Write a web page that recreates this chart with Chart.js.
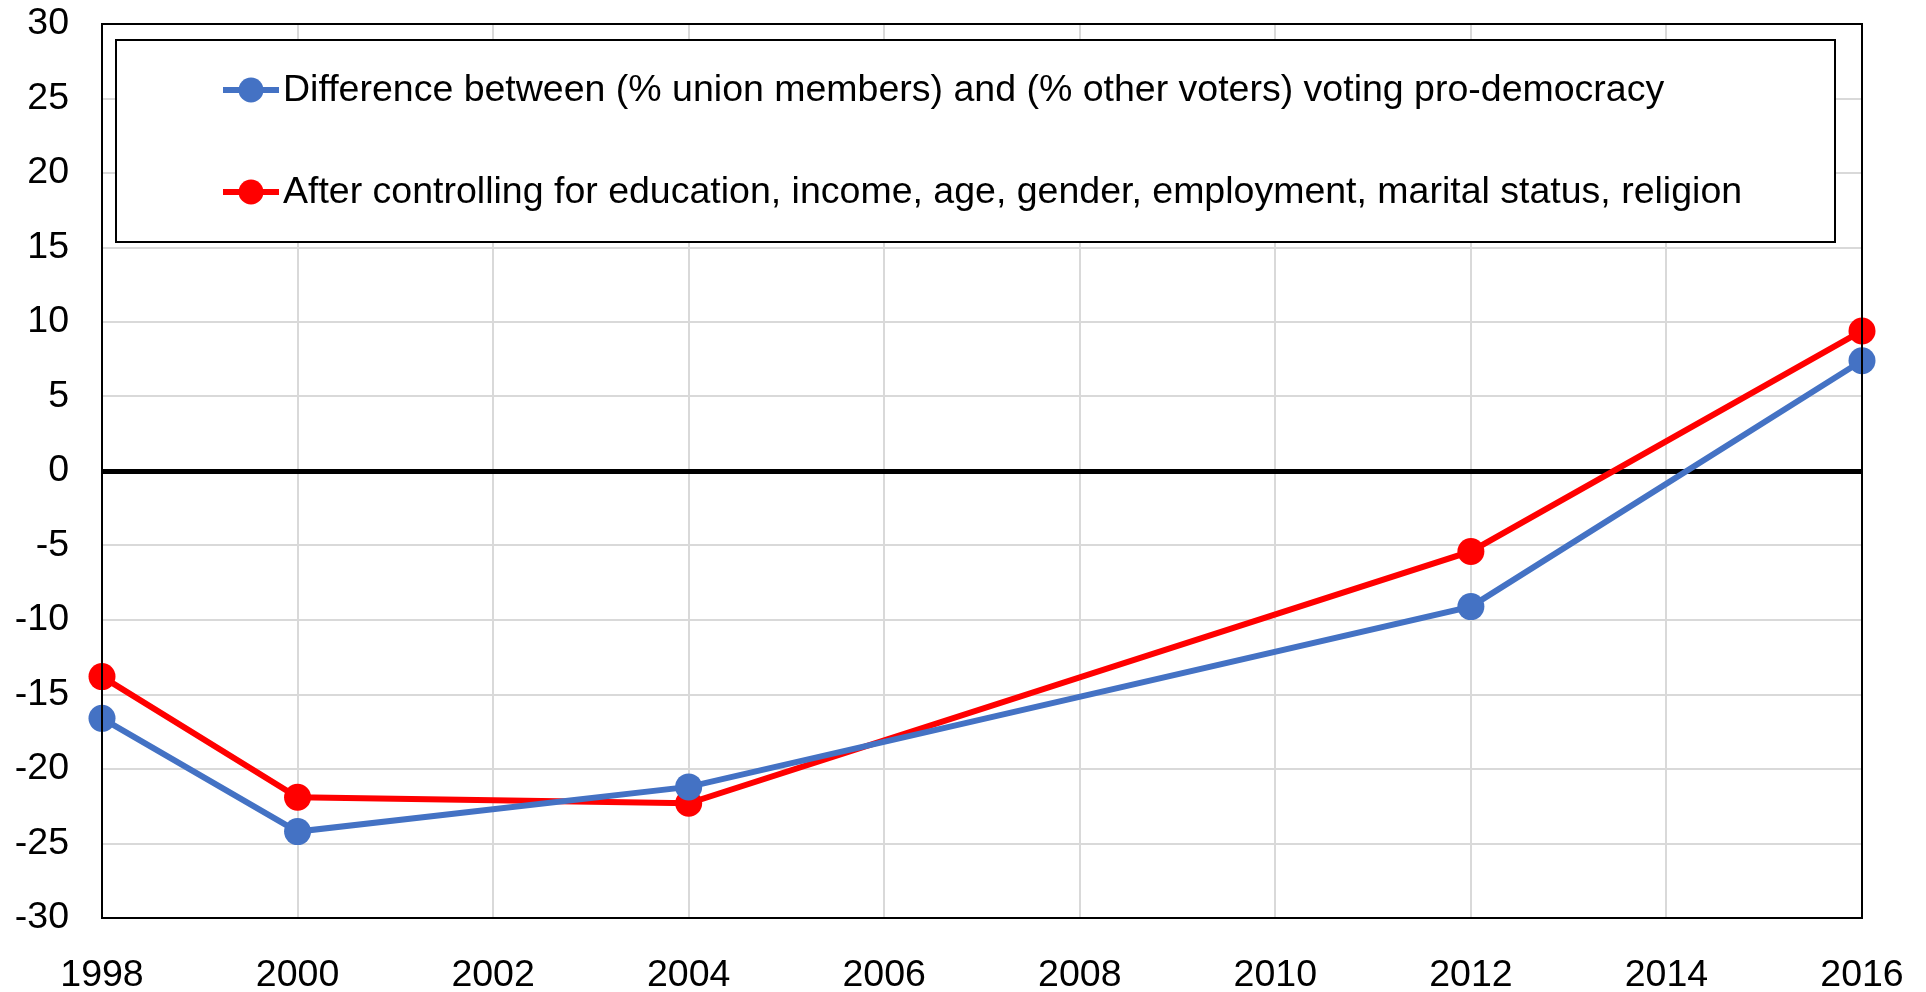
<!DOCTYPE html>
<html>
<head>
<meta charset="utf-8">
<script src="https://cdn.jsdelivr.net/npm/chart.js@4"></script>
<style>
  body { margin: 0; background: #fff; }
  #wrap { width: 1926px; height: 992px; }
</style>
</head>
<body>
<div id="wrap"><canvas id="Graphic"></canvas></div>
<script>
// data
const years = [1998, 2000, 2004, 2012, 2016];
const rawGap = [-16.6, -24.2, -21.2, -9.1, 7.4];
const controlledGap = [-13.8, -21.9, -22.3, -5.4, 9.4];
const seriesLabels = [
    'Difference between (% union members) and (% other voters) voting pro-democracy',
    'After controlling for education, income, age, gender, employment, marital status, religion'
];

const FONT = '"Liberation Sans", Arial, sans-serif';

// boxed legend drawn inside the plot area, plus the frame
const boxLegend = {
    id: 'boxLegend',
    afterDraw(chart) {
        const ctx = chart.ctx;
        const a = chart.chartArea;
        ctx.save();
        ctx.strokeStyle = '#000';
        ctx.lineWidth = 2;
        ctx.strokeRect(a.left, a.top, a.right - a.left, a.bottom - a.top);

        const bx = a.left + 14, by = a.top + 16;
        const bw = a.right - 27 - bx, bh = 202;
        ctx.fillStyle = '#fff';
        ctx.fillRect(bx, by, bw, bh);
        ctx.lineWidth = 2;
        ctx.strokeRect(bx, by, bw, bh);

        chart.data.datasets.forEach((ds, i) => {
            const y = by + 50 + i * 102;
            const x0 = a.left + 121;
            ctx.strokeStyle = ds.borderColor;
            ctx.lineWidth = 6;
            ctx.beginPath();
            ctx.moveTo(x0, y);
            ctx.lineTo(x0 + 56, y);
            ctx.stroke();
            ctx.fillStyle = ds.backgroundColor;
            ctx.beginPath();
            ctx.arc(x0 + 28, y, 12.5, 0, Math.PI * 2);
            ctx.fill();
            ctx.fillStyle = '#000';
            ctx.font = '37.5px ' + FONT;
            ctx.textBaseline = 'middle';
            ctx.textAlign = 'left';
            ctx.fillText(ds.label, x0 + 60, y + 1);
        });
        ctx.restore();
    }
};

function makeSeries(label, values, color) {
    return {
        label: label,
        data: years.map((yr, i) => ({ x: yr, y: values[i] })),
        borderColor: color,
        backgroundColor: color,
        borderWidth: 6,
        pointRadius: 13.5,
        pointHoverRadius: 13.5,
        pointBorderWidth: 0,
        tension: 0,
        clip: false
    };
}

new Chart(document.getElementById('Graphic').getContext('2d'), {
    type: 'line',
    data: {
        datasets: [
            makeSeries(seriesLabels[0], rawGap, '#4472C4'),
            makeSeries(seriesLabels[1], controlledGap, '#FF0000')
        ]
    },
    options: {
        responsive: true,
        maintainAspectRatio: false,
        animation: false,
        layout: { padding: { top: 24, right: 64, left: 0, bottom: 0 } },
        plugins: {
            legend: { display: false },
            tooltip: { enabled: false }
        },
        scales: {
            x: {
                type: 'linear',
                min: 1998,
                max: 2016,
                afterFit(scale) {
                    scale.height = 74;
                    scale.paddingLeft = 0;
                    scale.paddingRight = 0;
                },
                ticks: {
                    stepSize: 2,
                    padding: 35,
                    color: '#000',
                    font: { size: 37.5, family: FONT },
                    maxRotation: 0,
                    callback: v => String(v)
                },
                grid: { color: '#d9d9d9', lineWidth: 2, drawTicks: false },
                border: { color: '#000', width: 2 }
            },
            y: {
                min: -30,
                max: 30,
                afterFit(scale) {
                    scale.width = 102;
                    scale.paddingTop = 0;
                    scale.paddingBottom = 0;
                },
                ticks: {
                    stepSize: 5,
                    padding: 33,
                    color: '#000',
                    font: { size: 37.5, family: FONT }
                },
                grid: {
                    color: c => c.tick && c.tick.value === 0 ? '#000' : '#d9d9d9',
                    lineWidth: c => c.tick && c.tick.value === 0 ? 5 : 2,
                    drawTicks: false
                },
                border: { color: '#000', width: 2 }
            }
        }
    },
    plugins: [boxLegend]
});
</script>
</body>
</html>
